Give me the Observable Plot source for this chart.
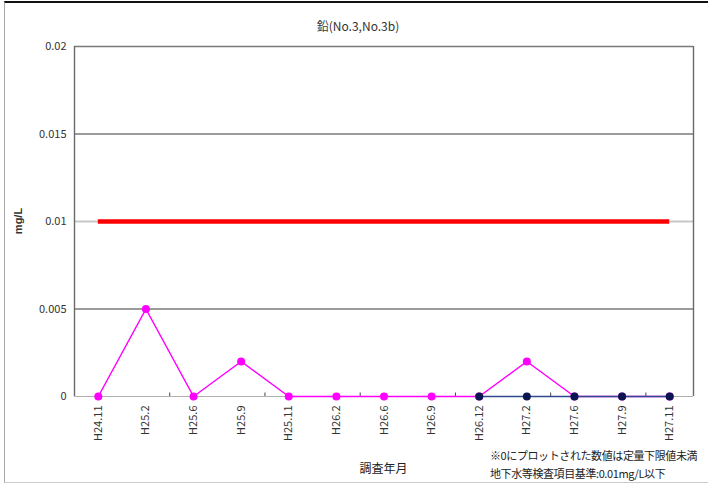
<!DOCTYPE html>
<html>
<head>
<meta charset="utf-8">
<script src="https://cdn.jsdelivr.net/npm/d3@7"></script>
<script src="https://cdn.jsdelivr.net/npm/@observablehq/plot@0.6"></script>
<style>
  html, body { margin: 0; padding: 0; background: #fff; }
  #wrap { position: relative; width: 708px; height: 488px; overflow: hidden; font-family: "Liberation Sans Narrow", "Noto Sans CJK JP", sans-serif; }
  #frame { position: absolute; left: 4px; top: 1px; width: 720px; height: 482px; border-top: 2px solid #111; border-left: 1px solid #aaa; border-bottom: 1px solid #ccc; box-sizing: border-box; pointer-events: none; }
  #title { position: absolute; left: 0; top: 17px; width: 716px; text-align: center; font-size: 12px; color: #333; font-family: "Noto Sans CJK JP", sans-serif; }
  #note { position: absolute; left: 490px; top: 446px; font-size: 11px; line-height: 18px; color: #222; white-space: nowrap; font-family: "Noto Sans CJK JP", sans-serif; letter-spacing: -0.4px; }
  #xlabel { position: absolute; left: 0; top: 459px; width: 767px; text-align: center; font-size: 12px; color: #222; font-family: "Noto Sans CJK JP", sans-serif; }
  #ylabel { position: absolute; left: 18px; top: 221px; transform: translate(-50%, -50%) rotate(-90deg); font-size: 11px; font-weight: bold; color: #333; font-family: "Liberation Sans", sans-serif; white-space: nowrap; }
  #chart { position: absolute; left: 0; top: 0; }
</style>
</head>
<body>
<div id="wrap">
  <div id="chart"></div>
  <div id="frame"></div>
  <div id="title">鉛(No.3,No.3b)</div>
  <div id="ylabel">mg/L</div>
  <div id="xlabel">調査年月</div>
  <div id="note">※0にプロットされた数値は定量下限値未満<br>地下水等検査項目基準:0.01mg/L以下</div>
</div>
<script>
const categories = ["H24.11","H25.2","H25.6","H25.9","H25.11","H26.2","H26.6","H26.9","H26.12","H27.2","H27.6","H27.9","H27.11"];
const no3 = [0, 0.005, 0, 0.002, 0, 0, 0, 0, 0, 0.002, 0, 0, 0];
const no3b = [null, null, null, null, null, null, null, null, 0, 0, 0, 0, 0];
const standard = 0.01;
const yTicks = [0, 0.005, 0.01, 0.015, 0.02];
const yTickLabels = ["0", "0.005", "0.01", "0.015", "0.02"];

const idx = categories.map((c, i) => i);
const s3 = categories.map((c, i) => ({i, v: no3[i]})).filter(d => d.v != null);
const s3b = categories.map((c, i) => ({i, v: no3b[i]})).filter(d => d.v != null);
// minor ticks at every second category boundary
const boundaryTicks = d3.range(1.5, categories.length - 1, 2);

const plot = Plot.plot({
  width: 708,
  height: 488,
  marginLeft: 74,
  marginRight: 15,
  marginTop: 46,
  marginBottom: 92,
  style: {fontFamily: "'Liberation Sans Narrow', 'Noto Sans CJK JP', sans-serif", fontSize: "11px", color: "#333", background: "transparent"},
  x: {domain: [-0.5, categories.length - 0.5], ticks: idx, tickFormat: i => categories[i], tickRotate: -90, tickSize: 0, tickPadding: 9, label: null},
  y: {domain: [0, 0.02], ticks: yTicks, tickFormat: d => yTickLabels[yTicks.indexOf(d)], tickSize: 0, tickPadding: 8, label: null},
  marks: [
    Plot.ruleY([0.005, 0.015, 0.02], {stroke: "#7a7a7a", strokeWidth: 1.4}),
    Plot.ruleY([standard], {stroke: "#c8c8c8", strokeWidth: 2}),
    Plot.ruleY([0], {stroke: "#b0b0b0", strokeWidth: 1}),
    Plot.ruleX([-0.5, categories.length - 0.5], {stroke: "#6a6a6a", strokeWidth: 1.4}),
    Plot.ruleX(boundaryTicks, {y1: 0, y2: 0.0002, stroke: "#444", strokeWidth: 1}),
    Plot.ruleY([standard], {x1: 0, x2: categories.length - 1, stroke: "#ff0000", strokeWidth: 4.5}),
    Plot.line(s3, {x: "i", y: "v", stroke: "#ff00ff", strokeWidth: 1.5}),
    Plot.dot(s3, {x: "i", y: "v", fill: "#ff00ff", r: 4}),
    Plot.line(s3b, {x: "i", y: "v", stroke: "#2e4a8c", strokeWidth: 1.5}),
    Plot.dot(s3b, {x: "i", y: "v", fill: "#0b1650", r: 4})
  ]
});
document.getElementById("chart").appendChild(plot);
</script>
</body>
</html>
